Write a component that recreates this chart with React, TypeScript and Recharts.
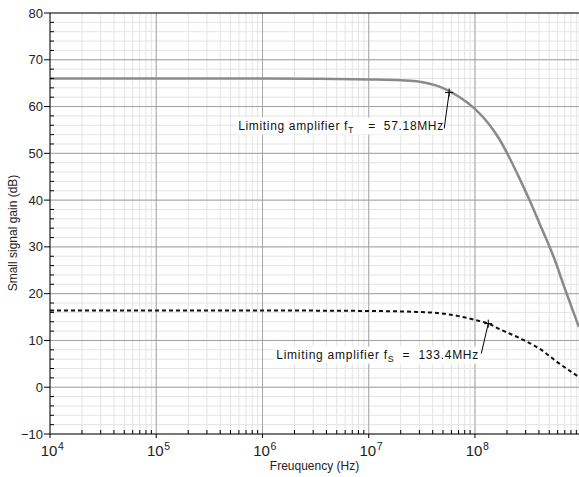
import {
  LineChart,
  Line,
  XAxis,
  YAxis,
  CartesianGrid,
  ReferenceLine,
  ReferenceDot,
  Label,
} from "recharts";

// gain of the limiting amplifier (solid grey)
const gainFreq = [1e4, 1e5, 1e6, 3e6, 1e7, 2e7, 3e7, 4.7e7, 7.2e7, 1e8, 1.38e8, 1.71e8, 2.14e8, 2.63e8, 3.29e8, 4.07e8, 5.6e8, 7.03e8, 9.5e8];
const gainDb = [66.0, 66.0, 66.0, 65.95, 65.8, 65.6, 65.3, 64.2, 62.0, 59.5, 56.0, 52.9, 48.8, 44.6, 39.8, 34.9, 27.4, 21.0, 12.9];

// second curve (dotted black)
const sFreq = [1e4, 1e5, 1e6, 1e7, 2.8e7, 4.7e7, 7e7, 1e8, 1.334e8, 1.71e8, 2.63e8, 4.07e8, 6.1e8, 9.5e8];
const sDb = [16.4, 16.4, 16.4, 16.3, 16.1, 15.8, 15.2, 14.4, 13.6, 12.4, 10.5, 8.2, 5.2, 2.2];

// marked points
const fT = { f: 57.18e6, db: 63.0, sub: "T", value: "57.18MHz" };
const fS = { f: 133.4e6, db: 13.6, sub: "S", value: "133.4MHz" };

const decades = [1e4, 1e5, 1e6, 1e7, 1e8];
const multipliers = [1, 2, 3, 4, 5, 6, 7, 8, 9];
const xMax = 9.53e8;
const yMajor = [-10, 0, 10, 20, 30, 40, 50, 60, 70, 80];

const xTicks = decades.flatMap((d) => multipliers.map((m) => m * d)).filter((v) => v <= xMax);
const yTicks = yMajor.flatMap((v) => (v < 80 ? [v, v + 2, v + 4, v + 6, v + 8] : [v]));

const gainRows = gainFreq.map((x, i) => ({ x, y: gainDb[i] }));
const sRows = sFreq.map((x, i) => ({ x, y: sDb[i] }));

const FONT = "'Liberation Sans', Arial, sans-serif";

function XTick(props: any) {
  const { x, y, payload } = props;
  const ay = y - 6;
  const v = payload.value;
  const exp = Math.round(Math.log10(v));
  const major = Math.abs(v - Math.pow(10, exp)) < 1;
  if (!major) return <line x1={x} x2={x} y1={ay} y2={ay - 4} stroke="#000" />;
  return (
    <g>
      <line x1={x} x2={x} y1={ay} y2={ay + 4} stroke="#000" />
      <text x={x - 1} y={ay + 22} textAnchor="middle" fontSize={15} fill="#222" fontFamily={FONT}>
        10
      </text>
      <text x={x + 8} y={ay + 16} fontSize={10.5} fill="#222" fontFamily={FONT}>
        {exp}
      </text>
    </g>
  );
}

function YTick(props: any) {
  const { x, y, payload } = props;
  const ax = x + 8;
  const v = payload.value;
  if (v % 10 !== 0) return <line x1={ax} x2={ax + 4} y1={y} y2={y} stroke="#000" />;
  return (
    <g>
      <line x1={ax - 6} x2={ax} y1={y} y2={y} stroke="#000" />
      <text x={ax - 7} y={y + 4.5} textAnchor="end" fontSize={13} fill="#222" fontFamily={FONT}>
        {v < 0 ? `\u2212${-v}` : v}
      </text>
    </g>
  );
}

function XLabel(props: any) {
  const vb = props.viewBox;
  return (
    <text x={vb.x + vb.width / 2} y={vb.y + 36} textAnchor="middle" fontSize={12} fill="#222" fontFamily={FONT}>
      Freuquency (Hz)
    </text>
  );
}

function YLabel() {
  return (
    <text
      x={17}
      y={233}
      transform="rotate(-90, 17, 233)"
      textAnchor="middle"
      fontSize={12}
      fill="#222"
      fontFamily={FONT}
    >
      Small signal gain (dB)
    </text>
  );
}

function makeMarker(sub: string, value: string, opts: { endDx: number; baseDy: number; leadDx: number; leadDy: number; textW: number; gap: number }) {
  return (props: any) => {
    const { cx, cy } = props;
    const tx = cx - opts.endDx;
    const ty = cy + opts.baseDy;
    return (
      <g>
        <rect x={tx - opts.textW - 2} y={ty - 12} width={opts.textW + 4} height={17} fill="#fff" />
        <line x1={cx} y1={cy} x2={cx - opts.leadDx} y2={cy + opts.leadDy} stroke="#000" strokeWidth={1} />
        <line x1={cx - 4} x2={cx + 4} y1={cy} y2={cy} stroke="#000" />
        <line x1={cx} x2={cx} y1={cy - 4} y2={cy + 4} stroke="#000" />
        <text
          x={tx - opts.textW}
          y={ty}
          textLength={opts.textW}
          lengthAdjust="spacing"
          fontSize={12}
          fill="#111"
          fontFamily={FONT}
        >
          Limiting amplifier f
          <tspan fontSize={9} dy={3}>
            {sub}
          </tspan>
          <tspan dy={-3} dx={opts.gap}>
            {"=\u00a0\u00a0" + value}
          </tspan>
        </text>
      </g>
    );
  };
}

export default function App() {
  return (
    <div style={{ position: "absolute", left: 0, top: 0, width: 579, height: 477 }}>
      <LineChart width={579} height={477} margin={{ top: 13, right: 0, bottom: 0, left: 0 }} style={{ fontFamily: FONT }}>
        <CartesianGrid stroke="#e4e4e4" />
        {decades.slice(1).map((v) => (
          <ReferenceLine key={`vx${v}`} x={v} stroke="#a6a6a6" />
        ))}
        {yMajor.slice(1, -1).map((v) => (
          <ReferenceLine key={`hy${v}`} y={v} stroke="#a0a0a0" />
        ))}
        <ReferenceLine y={80} stroke="#000" />
        <XAxis
          type="number"
          dataKey="x"
          scale="log"
          domain={[1e4, xMax]}
          ticks={xTicks}
          interval={0}
          allowDataOverflow
          tick={<XTick />}
          tickLine={false}
          tickSize={4}
          tickMargin={2}
          height={43}
          axisLine={{ stroke: "#000" }}
        >
          <Label content={XLabel} />
        </XAxis>
        <YAxis
          type="number"
          domain={[-10, 80]}
          ticks={yTicks}
          interval={0}
          allowDataOverflow
          tick={<YTick />}
          tickLine={false}
          tickSize={6}
          tickMargin={2}
          width={50}
          axisLine={{ stroke: "#000" }}
        >
          <Label content={YLabel} />
        </YAxis>
        <Line
          data={gainRows}
          dataKey="y"
          type="monotone"
          stroke="#8a8a8a"
          strokeWidth={2.5}
          dot={false}
          isAnimationActive={false}
        />
        <Line
          data={sRows}
          dataKey="y"
          type="monotone"
          stroke="#111"
          strokeWidth={2}
          strokeDasharray="4 3"
          dot={false}
          isAnimationActive={false}
        />
        <ReferenceDot
          x={fT.f}
          y={fT.db}
          shape={makeMarker(fT.sub, fT.value, { endDx: 6, baseDy: 37, leadDx: 5, leadDy: 36, textW: 205, gap: 14 })}
        />
        <ReferenceDot
          x={fS.f}
          y={fS.db}
          shape={makeMarker(fS.sub, fS.value, { endDx: 10, baseDy: 35, leadDx: 7, leadDy: 30, textW: 202, gap: 8 })}
        />
      </LineChart>
    </div>
  );
}
